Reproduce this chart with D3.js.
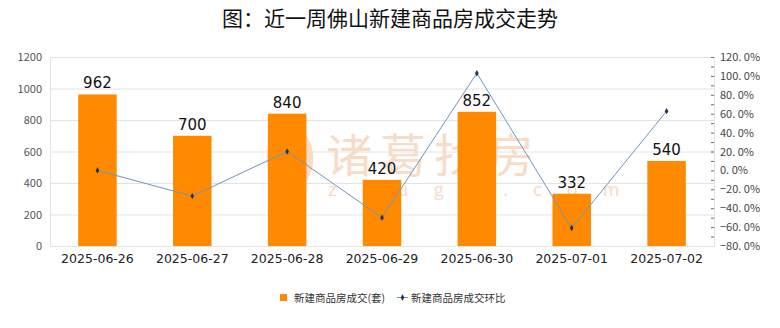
<!DOCTYPE html>
<html><head><meta charset="utf-8">
<script src="https://cdn.jsdelivr.net/npm/d3@7"></script>
<style>body{margin:0;background:#fff}svg{display:block}</style>
</head><body>
<svg id="c" width="780" height="328"></svg>
<script>
const title = "图：近一周佛山新建商品房成交走势";
const categories = ["2025-06-26","2025-06-27","2025-06-28","2025-06-29","2025-06-30","2025-07-01","2025-07-02"];
const deals = [962, 700, 840, 420, 852, 332, 540];
const ratio = [0.0, -27.2, 20.0, -50.0, 102.9, -61.0, 62.7];
const leftTicks = [0,200,400,600,800,1000,1200];
const rightTicks = [-80,-60,-40,-20,0,20,40,60,80,100,120];
const seriesNames = ["新建商品房成交(套)","新建商品房成交环比"];

const svg = d3.select("#c");
const font = "'Noto Sans CJK SC','Noto Sans',sans-serif";
const L = 50, R = 714, T = 57, B = 246;

const x = d3.scaleBand().domain(categories).range([L, R]).paddingInner(0).paddingOuter(0);
const yL = d3.scaleLinear().domain([0,1200]).range([B, T]);
const yR = d3.scaleLinear().domain([-80,120]).range([B, T]);

svg.append("text").attr("x", 390).attr("y", 26).attr("text-anchor","middle")
  .attr("font-family", font).attr("font-size", 21).attr("fill","#111").text(title);

// gridlines
svg.append("g").selectAll("line").data(leftTicks).join("line")
  .attr("x1", L).attr("x2", R).attr("y1", d=>yL(d)+0.5).attr("y2", d=>yL(d)+0.5)
  .attr("stroke","#e3e3e3").attr("stroke-width",1);
svg.append("line").attr("x1",L+0.5).attr("x2",L+0.5).attr("y1",T).attr("y2",B).attr("stroke","#e3e3e3");
svg.append("line").attr("x1",R+0.5).attr("x2",R+0.5).attr("y1",T).attr("y2",B).attr("stroke","#e3e3e3");

// watermark
const wc = "#f7dcc7";
const wm = svg.append("g");
wm.append("path").attr("d","M282,128 C262,140 262,175 280,188 C272,172 272,146 282,128 Z").attr("fill",wc);
wm.append("path").attr("d","M298,128 C318,140 318,175 300,188 C308,172 308,146 298,128 Z").attr("fill",wc);
wm.append("path").attr("d","M290,140 C284,152 284,168 290,180 C296,168 296,152 290,140 Z").attr("fill",wc);
wm.append("text").attr("x",326).attr("y",172).attr("font-family",font).attr("font-size",46)
  .attr("letter-spacing",8).attr("fill",wc).text("诸葛找房");
wm.append("text").attr("x",328).attr("y",196).attr("font-family",font).attr("font-size",18)
  .attr("letter-spacing",25).attr("fill",wc).text("zhuge.com");

// bars
const bw = 38.5;
svg.append("g").selectAll("rect").data(deals).join("rect")
  .attr("x",(d,i)=>x(categories[i])+x.bandwidth()/2-bw/2)
  .attr("y",d=>yL(d)).attr("width",bw).attr("height",d=>B-yL(d)+0.5)
  .attr("fill","#ff8a00");
svg.append("g").selectAll("text").data(deals).join("text")
  .attr("x",(d,i)=>x(categories[i])+x.bandwidth()/2).attr("y",d=>yL(d)-6)
  .attr("text-anchor","middle").attr("font-family","'DejaVu Sans',sans-serif").attr("font-size",15)
  .attr("fill","#111").text(d=>d);

// line
const line = d3.line().x((d,i)=>x(categories[i])+x.bandwidth()/2).y(d=>yR(d));
svg.append("path").datum(ratio).attr("d",line).attr("fill","none").attr("stroke","#6f95bd").attr("stroke-width",1);
svg.append("g").selectAll("path").data(ratio).join("path")
  .attr("transform",(d,i)=>`translate(${x(categories[i])+x.bandwidth()/2},${yR(d)})`)
  .attr("d",d3.symbol(d3.symbolDiamond,12)).attr("fill","#1f3550");

// left axis
const ga = svg.append("g").attr("transform",`translate(${L},0)`)
  .call(d3.axisLeft(yL).tickValues(leftTicks).tickFormat(d3.format("d")).tickSize(0).tickPadding(8));
ga.select(".domain").remove();
ga.selectAll("text").attr("font-family",font).attr("font-size",11).attr("fill","#555");

// right axis
const gr = svg.append("g").attr("transform",`translate(${R},0)`)
  .call(d3.axisRight(yR).tickValues(rightTicks).tickSize(0).tickPadding(6).tickFormat(d=>d3.format(".1f")(d).replace(".",". ")+"%"));
gr.select(".domain").remove();
gr.selectAll("text").attr("font-family",font).attr("font-size",11).attr("fill","#444");
const minor = d3.range(-80,121,10);
svg.append("g").selectAll("line").data(minor).join("line")
  .attr("x1",R-3).attr("x2",R).attr("y1",d=>yR(d)+0.5).attr("y2",d=>yR(d)+0.5)
  .attr("stroke","#666").attr("stroke-width",1);

// bottom axis
const gb = svg.append("g").attr("transform",`translate(0,${B})`)
  .call(d3.axisBottom(x).tickSize(0).tickPadding(8));
gb.select(".domain").attr("stroke","#e3e3e3");
gb.selectAll("text").attr("font-family","'DejaVu Sans',sans-serif").attr("font-size",12.5).attr("fill","#222");

// legend
const lg = svg.append("g").attr("font-family",font).attr("font-size",10.5).attr("fill","#333");
lg.append("rect").attr("x",280).attr("y",294).attr("width",7).attr("height",7).attr("fill","#ff8a00");
lg.append("text").attr("x",294).attr("y",301.5).text(seriesNames[0]);
lg.append("line").attr("x1",397).attr("x2",408).attr("y1",297.5).attr("y2",297.5).attr("stroke","#6f95bd");
lg.append("path").attr("transform","translate(402.5,297.5)").attr("d",d3.symbol(d3.symbolDiamond,12)).attr("fill","#1f3550");
lg.append("text").attr("x",411).attr("y",301.5).text(seriesNames[1]);
</script>
</body></html>
